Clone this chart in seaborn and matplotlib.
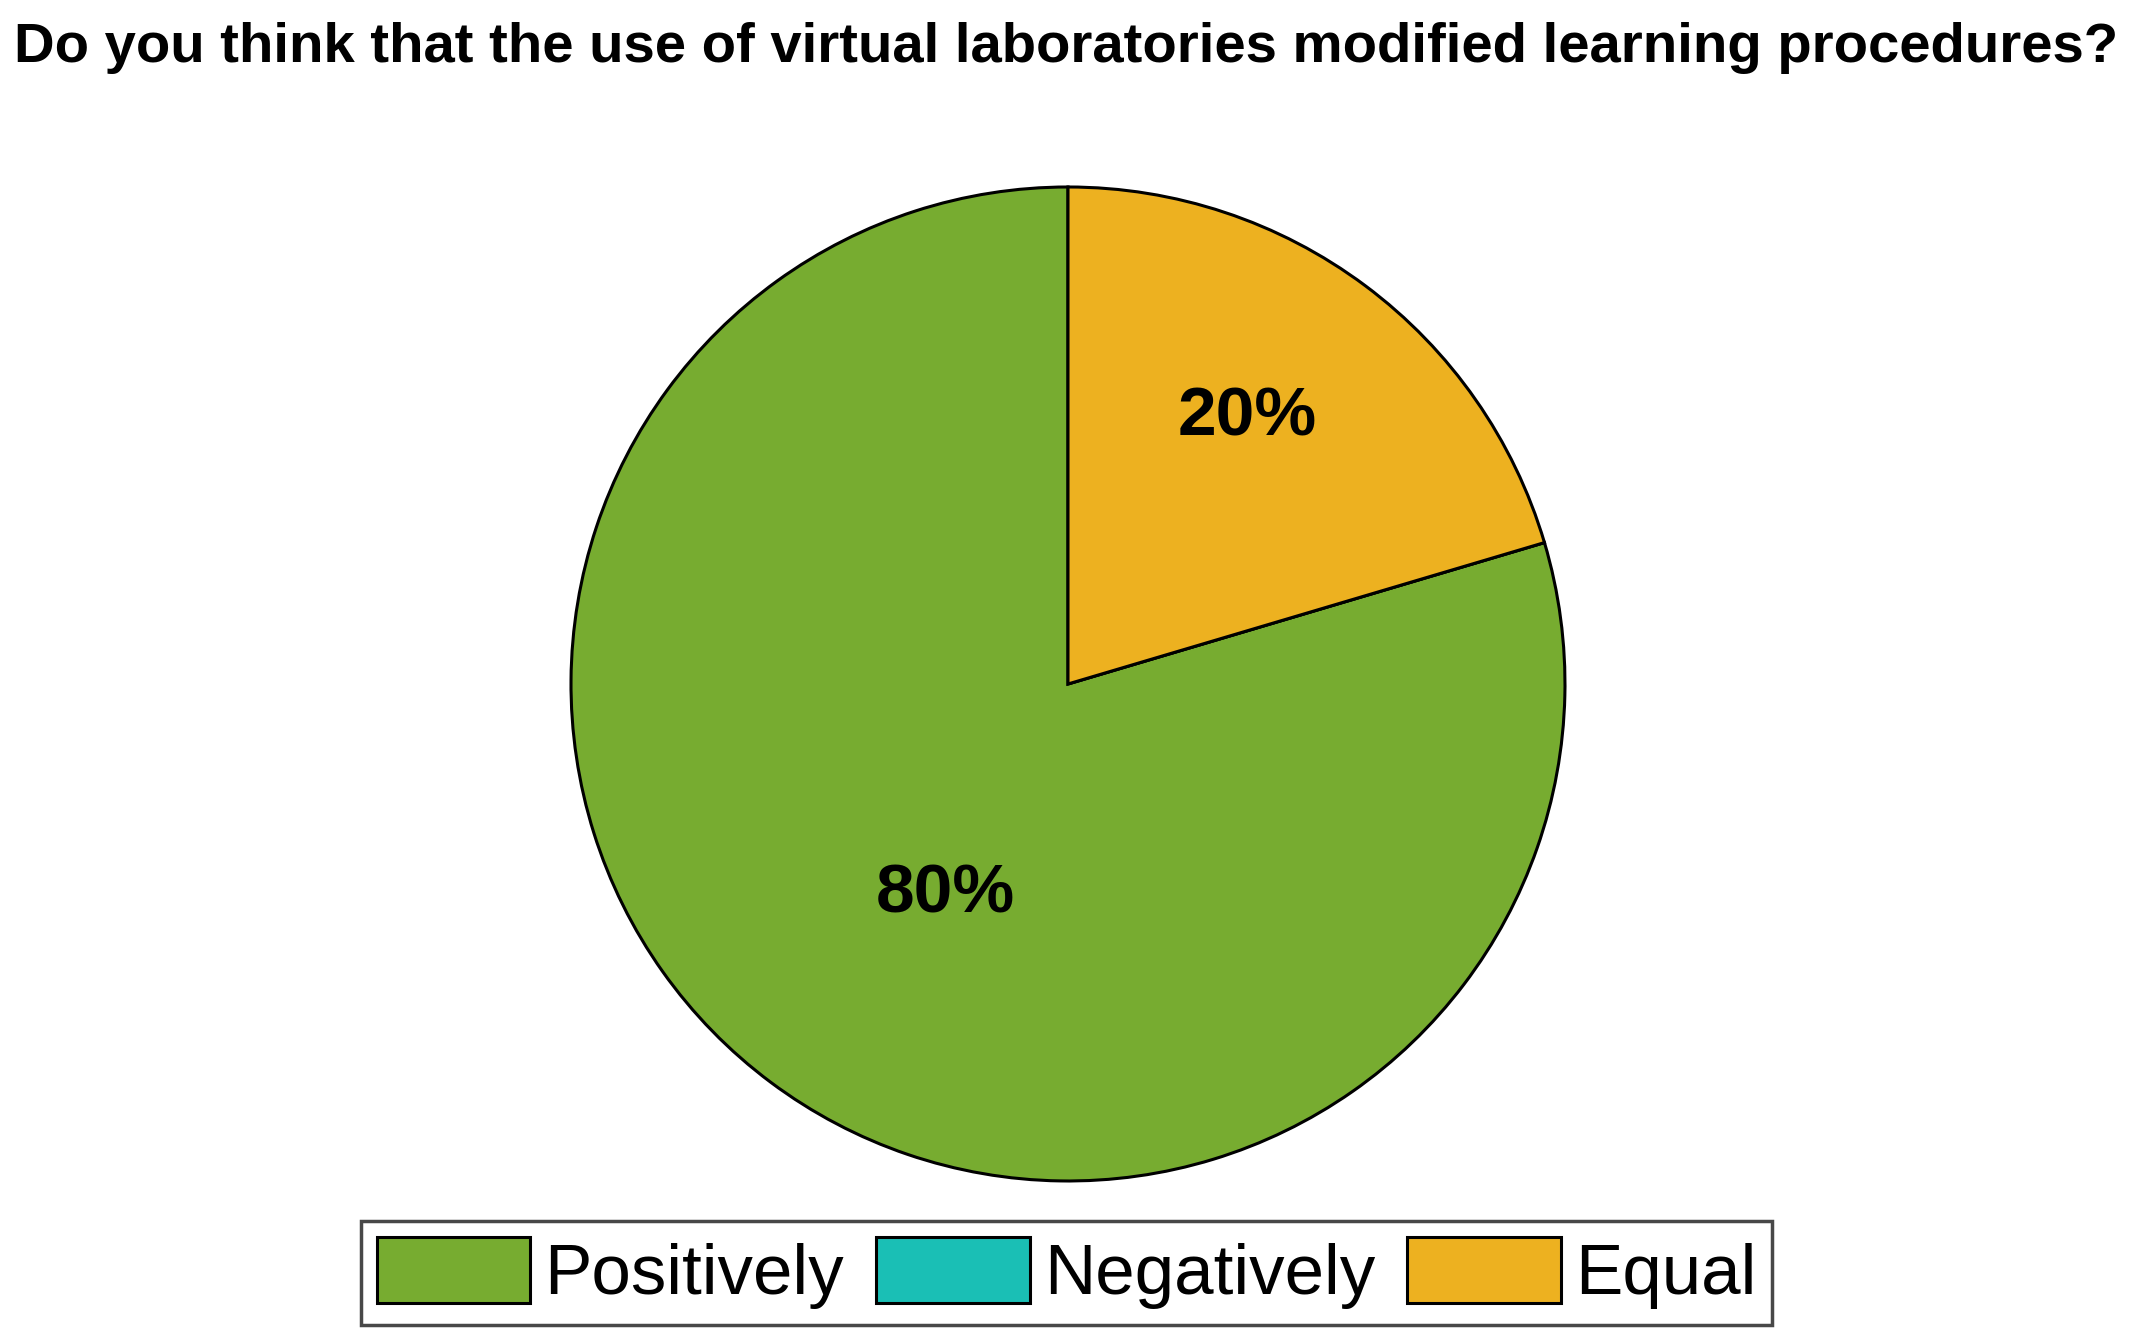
import numpy as np
import seaborn as sns
import matplotlib
matplotlib.use("Agg")
import matplotlib.pyplot as plt
from matplotlib.patches import Patch

# data (answer counts)
categories = ["Positively", "Negatively", "Equal"]
counts = [39, 0, 10]
colors = ["#77AC30", "#1ABFB5", "#EDB120"]
title = "Do you think that the use of virtual laboratories modified learning procedures?"

sns.set_theme(style="white")
plt.rcParams["font.family"] = ["Liberation Sans", "DejaVu Sans"]
plt.rcParams["text.color"] = "black"

fig = plt.figure(figsize=(21.33, 13.38), dpi=100)
ax = fig.add_axes([0.2677, 0.1173, 0.466, 0.743])


def pct_label(p):
    # no label for empty slices
    return f"{p:.0f}%" if p > 0.5 else ""


wedges, texts, autotexts = ax.pie(
    counts,
    colors=colors,
    startangle=90,
    counterclock=True,
    autopct=pct_label,
    pctdistance=0.6,
    wedgeprops={"edgecolor": "black", "linewidth": 2.2},
    textprops={"fontsize": 50, "fontweight": "bold", "color": "black"},
)

# put labels where the reference has them (radius, extra turn in degrees)
label_place = {0: (0.49, 6.4), 2: (0.647, 2.8)}
for i, t in enumerate(autotexts):
    if i in label_place:
        r, turn = label_place[i]
        w = wedges[i]
        ang = np.deg2rad((w.theta1 + w.theta2) / 2 + turn)
        t.set_position((r * np.cos(ang), r * np.sin(ang)))

ax.set_xlim(-1, 1)
ax.set_ylim(-1, 1)
ax.set_aspect("equal")
ax.axis("off")

fig.text(0.5, 0.964, title, ha="center", va="center",
         fontsize=40.5, fontweight="bold", color="black")

handles = [Patch(facecolor=c, edgecolor="black", linewidth=2.2) for c in colors]
leg = fig.legend(handles, categories, loc="center", bbox_to_anchor=(0.5, 0.0486),
                 ncol=3, fontsize=51, frameon=True, fancybox=False,
                 handlelength=2.17, handleheight=1.05, handletextpad=0.2,
                 columnspacing=0.45, borderpad=0.22, borderaxespad=0)
for t in leg.get_texts():
    t.set_color("black")
leg.get_frame().set_edgecolor("#1a1a1a")
leg.get_frame().set_linewidth(2.5)

fig.savefig("out.png", dpi=100)
